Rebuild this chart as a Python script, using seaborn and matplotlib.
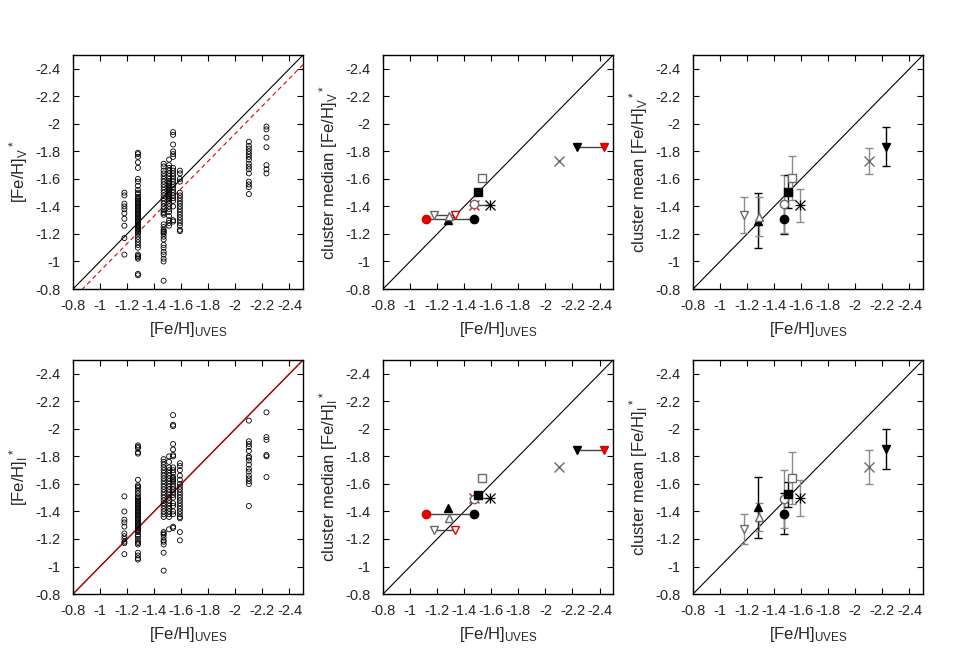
import numpy as np
import pandas as pd
import seaborn as sns
import matplotlib
matplotlib.use("Agg")
import matplotlib.pyplot as plt
from matplotlib.ticker import FixedLocator, FuncFormatter

# ---- star by star values, one list per cluster column ----
col_uves = [-1.18, -1.28, -1.47, -1.51, -1.54, -1.59, -2.10, -2.23]

feh_v = [
    [-1.50, -1.48, -1.42, -1.40, -1.38, -1.35, -1.31, -1.26, -1.17, -1.05],
    [-1.79, -1.78, -1.76, -1.72, -1.68, -1.60, -1.58, -1.55, -1.52, -1.50, -1.49, -1.47,
     -1.46, -1.45, -1.44, -1.43, -1.42, -1.41, -1.40, -1.39, -1.38, -1.37, -1.36, -1.35,
     -1.34, -1.33, -1.32, -1.31, -1.30, -1.29, -1.28, -1.27, -1.26, -1.25, -1.24, -1.23,
     -1.22, -1.21, -1.20, -1.18, -1.16, -1.14, -1.12, -1.10, -1.05, -1.04, -1.03, -1.02,
     -0.91, -0.90],
    [-1.71, -1.69, -1.66, -1.64, -1.62, -1.60, -1.58, -1.56, -1.54, -1.52, -1.50, -1.48,
     -1.46, -1.44, -1.42, -1.40, -1.38, -1.36, -1.35, -1.34, -1.27, -1.25, -1.23, -1.22,
     -1.21, -1.20, -1.18, -1.16, -1.12, -1.10, -1.07, -1.05, -1.02, -1.00, -0.86],
    [-1.74, -1.70, -1.68, -1.66, -1.64, -1.62, -1.60, -1.58, -1.57, -1.56, -1.55, -1.54,
     -1.53, -1.52, -1.51, -1.50, -1.49, -1.48, -1.47, -1.46, -1.45, -1.44, -1.42, -1.40,
     -1.38, -1.36, -1.33, -1.30, -1.28, -1.26],
    [-1.94, -1.92, -1.85, -1.80, -1.78, -1.76, -1.68, -1.66, -1.64, -1.62, -1.60, -1.58,
     -1.56, -1.54, -1.52, -1.50, -1.48, -1.46, -1.44, -1.40, -1.30, -1.29],
    [-1.66, -1.64, -1.60, -1.58, -1.50, -1.48, -1.46, -1.44, -1.42, -1.40, -1.38, -1.36,
     -1.34, -1.32, -1.30, -1.28, -1.26, -1.23, -1.22],
    [-1.87, -1.84, -1.82, -1.80, -1.78, -1.76, -1.74, -1.71, -1.69, -1.67, -1.64, -1.58,
     -1.56, -1.54, -1.49],
    [-1.98, -1.96, -1.90, -1.83, -1.70, -1.67, -1.64],
]

feh_i = [
    [-1.51, -1.40, -1.34, -1.32, -1.29, -1.24, -1.22, -1.20, -1.18, -1.17, -1.09],
    [-1.88, -1.87, -1.86, -1.83, -1.82, -1.63, -1.59, -1.58, -1.57, -1.55, -1.53, -1.51,
     -1.50, -1.49, -1.48, -1.47, -1.46, -1.45, -1.44, -1.43, -1.42, -1.41, -1.40, -1.39,
     -1.38, -1.37, -1.36, -1.35, -1.34, -1.33, -1.32, -1.31, -1.30, -1.29, -1.28, -1.27,
     -1.26, -1.25, -1.23, -1.22, -1.20, -1.18, -1.17, -1.16, -1.10, -1.08, -1.06, -1.05],
    [-1.78, -1.76, -1.74, -1.72, -1.70, -1.68, -1.66, -1.64, -1.62, -1.60, -1.58, -1.56,
     -1.54, -1.52, -1.50, -1.48, -1.46, -1.44, -1.42, -1.40, -1.38, -1.36, -1.25, -1.24,
     -1.23, -1.21, -1.19, -1.18, -1.16, -1.10, -0.97],
    [-1.80, -1.76, -1.72, -1.70, -1.68, -1.66, -1.64, -1.62, -1.60, -1.58, -1.56, -1.54,
     -1.52, -1.50, -1.48, -1.46, -1.44, -1.42, -1.40, -1.38, -1.36, -1.27],
    [-2.10, -2.03, -2.02, -1.89, -1.85, -1.81, -1.80, -1.72, -1.70, -1.68, -1.65, -1.64,
     -1.63, -1.62, -1.60, -1.58, -1.56, -1.54, -1.52, -1.50, -1.46, -1.44, -1.40, -1.38,
     -1.29, -1.28],
    [-1.75, -1.73, -1.70, -1.66, -1.63, -1.60, -1.58, -1.56, -1.54, -1.52, -1.50, -1.48,
     -1.46, -1.44, -1.42, -1.40, -1.38, -1.36, -1.35, -1.25, -1.19],
    [-2.06, -1.91, -1.89, -1.87, -1.84, -1.80, -1.79, -1.77, -1.74, -1.71, -1.69, -1.66,
     -1.64, -1.62, -1.60, -1.44],
    [-2.12, -1.94, -1.92, -1.81, -1.80, -1.65],
]

# offset of the red dashed fit in the V panel
fit_offset_v = 0.07

# ---- cluster values ----
clu_uves = [-1.18, -1.28, -1.29, -1.47, -1.47, -1.50, -1.53, -1.59, -2.10, -2.23]
clu_marker = ["v", "^", "^", "o", "o", "s", "s", "*", "x", "v"]
clu_filled = [False, True, False, True, False, True, False, True, True, True]

median_v = [-1.34, -1.30, -1.33, -1.31, -1.42, -1.505, -1.605, -1.41, -1.73, -1.835]
median_i = [-1.265, -1.425, -1.355, -1.38, -1.49, -1.52, -1.645, -1.495, -1.725, -1.85]

mean_v = [-1.335, -1.295, -1.325, -1.31, -1.42, -1.505, -1.61, -1.41, -1.73, -1.835]
err_v = [0.13, 0.20, 0.14, 0.11, 0.21, 0.12, 0.16, 0.12, 0.097, 0.14]
mean_i = [-1.27, -1.43, -1.36, -1.385, -1.49, -1.525, -1.645, -1.50, -1.725, -1.855]
err_i = [0.11, 0.22, 0.10, 0.15, 0.21, 0.09, 0.19, 0.13, 0.125, 0.145]

# alternative (literature) metallicities drawn in red in the median panels
alt_idx = [0, 3, 7, 9]
alt_uves = [-1.33, -1.12, -1.47, -2.43]

tick_vals = [-0.8, -1.0, -1.2, -1.4, -1.6, -1.8, -2.0, -2.2, -2.4]

sns.set_theme(style="ticks")
plt.rcParams["font.family"] = ["Liberation Sans", "DejaVu Sans"]
plt.rcParams["mathtext.default"] = "regular"

GREY = "#6a6a6a"
MSIZE = {"v": 5.5, "^": 5.5, "o": 6.0, "s": 6.0, "*": 6.5, "x": 6.5}


def star_frame(cols, vals):
    xs, ys = [], []
    for x, col in zip(cols, vals):
        xs += [x] * len(col)
        ys += col
    return pd.DataFrame({"uves": xs, "feh": ys})


def style_axis(ax, ylabel):
    ax.set_xlim(-0.8, -2.5)
    ax.set_ylim(-0.8, -2.5)
    for axis in (ax.xaxis, ax.yaxis):
        axis.set_major_locator(FixedLocator(tick_vals))
        axis.set_major_formatter(FuncFormatter(lambda v, p: "%g" % v))
    ax.tick_params(direction="in", top=True, right=True, length=4, width=0.8,
                   labelsize=10.5, color="black")
    ax.tick_params(axis="x", pad=7)
    ax.tick_params(axis="y", pad=9)
    for s in ax.spines.values():
        s.set_linewidth(1.0)
        s.set_color("black")
    ax.set_xlabel(r"[Fe/H]$_{UVES}$", fontsize=12, labelpad=5)
    ax.set_ylabel(ylabel, fontsize=12, labelpad=4)
    ax.axline((-1.0, -1.0), slope=1, color="black", lw=0.8, zorder=1)


def draw_stars(ax, vals):
    df = star_frame(col_uves, vals)
    sns.scatterplot(data=df, x="uves", y="feh", ax=ax, marker="o", s=13,
                    facecolor="none", edgecolor="black", linewidth=0.6, zorder=3)


def draw_cluster(ax, x, y, k, color=None):
    m = clu_marker[k]
    ms = MSIZE[m]
    if m == "*":
        # gnuplot style asterisk: a plus and a cross on top of each other
        col = color or "black"
        for sub in ("+", "x"):
            ax.plot([x], [y], linestyle="none", marker=sub, ms=ms, mec=col,
                    mew=0.9, zorder=5)
        return
    if m == "x":
        ax.plot([x], [y], linestyle="none", marker="x", ms=ms, mec=color or GREY,
                mew=1.0, zorder=5)
        return
    face = (color or "black") if clu_filled[k] else "white"
    edge = color or ("black" if clu_filled[k] else GREY)
    ax.plot([x], [y], linestyle="none", marker=m, ms=ms, mfc=face, mec=edge,
            mew=1.0, zorder=5)


def draw_medians(ax, med):
    for j, k in enumerate(alt_idx):
        ax.plot([clu_uves[k], alt_uves[j]], [med[k], med[k]], color="#444444",
                lw=1.0, zorder=2)
        draw_cluster(ax, alt_uves[j], med[k], k, color="#e00000")
    for k in range(len(clu_uves)):
        draw_cluster(ax, clu_uves[k], med[k], k)


def draw_means(ax, mean, err):
    for k in range(len(clu_uves)):
        dark = clu_filled[k] and clu_marker[k] not in ("x", "*")
        ec = "black" if dark else "#8a8a8a"
        ax.errorbar([clu_uves[k]], [mean[k]], yerr=[err[k]], fmt="none", ecolor=ec,
                    elinewidth=1.0, capsize=3, capthick=1.0, zorder=3)
        draw_cluster(ax, clu_uves[k], mean[k], k)


fig, axes = plt.subplots(2, 3, figsize=(9.54, 6.67), dpi=100)
lefts = [0.0765, 0.4015, 0.7264]
bottoms = [0.5667, 0.1094]
for r in range(2):
    for c in range(3):
        axes[r, c].set_position([lefts[c], bottoms[r], 0.2411, 0.3508])

lab_v = r"[Fe/H]$_V$$^*$"
lab_i = r"[Fe/H]$_I$$^*$"

# top row: V band
ax = axes[0, 0]
style_axis(ax, lab_v)
ax.axline((-1.0, -1.0 + fit_offset_v), slope=1, color="#e00000", lw=0.8,
          linestyle=(0, (4, 3)), zorder=2)
draw_stars(ax, feh_v)

ax = axes[0, 1]
style_axis(ax, "cluster median " + lab_v)
draw_medians(ax, median_v)

ax = axes[0, 2]
style_axis(ax, "cluster mean " + lab_v)
draw_means(ax, mean_v, err_v)

# bottom row: I band
ax = axes[1, 0]
style_axis(ax, lab_i)
ax.axline((-1.0, -1.0), slope=1, color="#cc0000", lw=0.9, zorder=2)
draw_stars(ax, feh_i)

ax = axes[1, 1]
style_axis(ax, "cluster median " + lab_i)
draw_medians(ax, median_i)

ax = axes[1, 2]
style_axis(ax, "cluster mean " + lab_i)
draw_means(ax, mean_i, err_i)

fig.savefig("out.png", dpi=100)
